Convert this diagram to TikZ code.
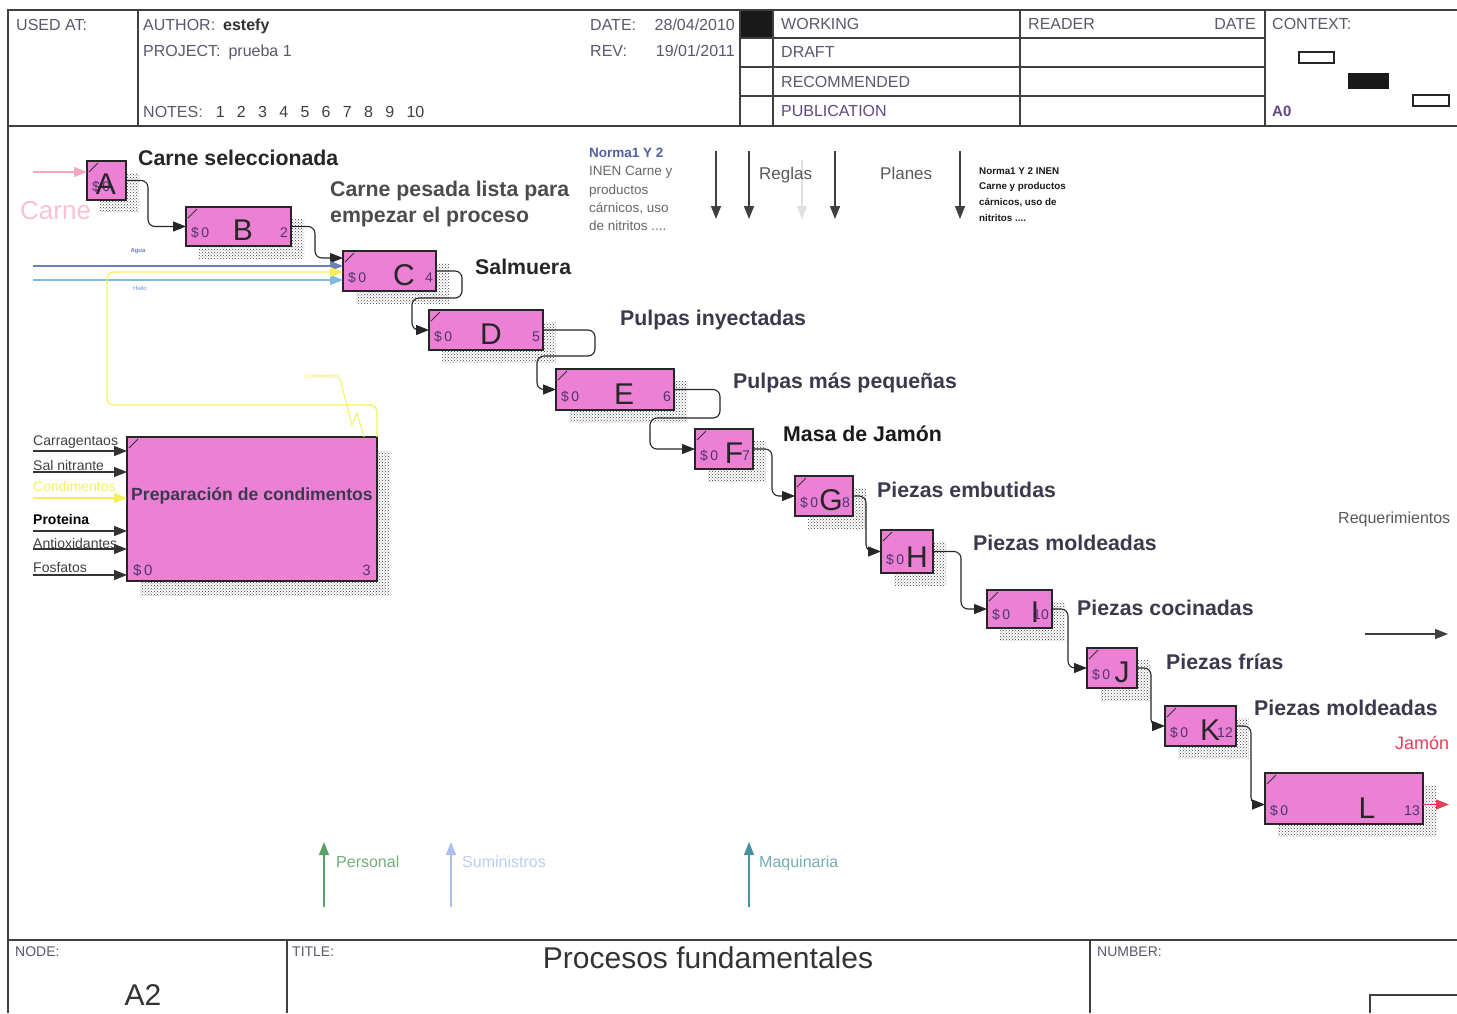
\documentclass[tikz,border=0pt]{standalone}
\usepackage{fontspec}
\setmainfont{Liberation Sans}
\usetikzlibrary{arrows.meta,patterns,calc}

\definecolor{procfill}{RGB}{236,128,212}
\definecolor{ink}{RGB}{58,58,76}
\definecolor{hdr}{RGB}{88,88,110}
\definecolor{costc}{RGB}{80,50,115}
\definecolor{normblue}{RGB}{80,96,160}
\definecolor{ylw}{RGB}{245,240,90}
\definecolor{aguab}{RGB}{108,128,184}
\definecolor{hielob}{RGB}{128,184,224}
\definecolor{carnepink}{RGB}{246,168,192}
\definecolor{jamonred}{RGB}{232,60,88}
\definecolor{persg}{RGB}{90,160,100}
\definecolor{sumb}{RGB}{170,192,240}
\definecolor{maqt}{RGB}{70,146,156}

\newcommand\fsz[1]{\fontsize{#1}{#1}\selectfont}

% one IDEF0 activity box with its hatched shadow:
% name, x1, y1, x2, y2, x of the letter, letter, box number
\newcommand\procbox[8]{%
  \fill[shade] ({#2+13},{#3+12}) rectangle ({#4+13},{#5+12});
  \node[proc, minimum width={#4-#2}, minimum height={#5-#3}] (#1) at ({(#2+#4)/2},{(#3+#5)/2}) {};
  \draw[black!80, line width=0.8pt] ({#2+2},{#3+11}) -- ({#2+11},{#3+2});
  \node[cost] (#1-cost) at ({#2+5},{#5-9}) {\$\,0};
  \node[letter] (#1-id) at ({#6},{#5-6}) {#7};
  \node[num] (#1-num) at ({#4-3},{#5-9}) {#8};
}

\begin{document}
\begin{tikzpicture}[x=1pt,y=-1pt,
  frame/.style={draw=black!75, line width=1.4pt},
  proc/.style={draw=black!85, fill=procfill, line width=1.2pt, inner sep=0pt, outer sep=0pt},
  shade/.style={pattern=crosshatch dots, pattern color=black!75},
  tip/.style={-{Triangle[length=13pt,width=10pt]}},
  flow/.style={draw=black!85, line width=1.1pt, rounded corners=7pt, tip},
  lab/.style={font=\fsz{21.3}\bfseries, text=ink, inner sep=0pt, anchor=base west},
  hd/.style={font=\fsz{16}, text=hdr, inner sep=0pt, anchor=base west},
  small/.style={font=\fsz{14}, text=black!75, inner sep=0pt, anchor=base west},
  tiny/.style={font=\fsz{6}, inner sep=0pt},
  cost/.style={font=\fsz{14}, text=costc, inner sep=0pt, anchor=base west},
  letter/.style={font=\fsz{30}, text=black!85, inner sep=0pt, anchor=base},
  num/.style={font=\fsz{14}, text=costc, inner sep=0pt, anchor=base east},
  ctrl/.style={draw=black!75, line width=1.4pt, tip},
  inarrow/.style={draw=black!80, line width=1.2pt, tip},
]
\useasboundingbox (0,0) rectangle (1457,1013);
\fill[white] (0,0) rectangle (1457,1013);

% ---------- form frame ----------
\draw[frame] (8,1013) -- (8,10) -- (1457,10);
\draw[frame] (8,126) -- (1457,126);
\draw[frame] (8,940) -- (1457,940);
\foreach \xx in {138,740,773,1020,1265} \draw[frame] (\xx,10) -- (\xx,126);
\foreach \yy in {38,67,96} \draw[frame, line width=1.1pt] (740,\yy) -- (1265,\yy);
\fill[black!90] (741,11) rectangle (772,37);
\draw[frame] (287,940) -- (287,1013);
\draw[frame] (1090,940) -- (1090,1013);
\draw[frame, line width=1.1pt] (1457,995) -- (1370,995) -- (1370,1013);

% ---------- header texts ----------
\node[hd] (usedat) at (16,30) {USED AT:};
\node[hd] (author) at (143,30) {AUTHOR:\hspace{8pt}\textcolor{black!80}{\bfseries estefy}};
\node[hd] (project) at (143,56) {PROJECT:\hspace{8pt}prueba 1};
\node[hd] (notes) at (143,117) {NOTES:\hspace{13pt}\textcolor{black!75}{1\hspace{12.3pt}2\hspace{12.3pt}3\hspace{12.3pt}4\hspace{12.3pt}5\hspace{12.3pt}6\hspace{12.3pt}7\hspace{12.3pt}8\hspace{12.3pt}9\hspace{12.3pt}10}};
\node[hd] (datek) at (590,30) {DATE:};
\node[hd, anchor=base east] (datev) at (735,30) {28/04/2010};
\node[hd] (revk) at (590,56) {REV:};
\node[hd, anchor=base east] (revv) at (735,56) {19/01/2011};
\node[hd] (working) at (781,29) {WORKING};
\node[hd] (draft) at (781,57) {DRAFT};
\node[hd] (recom) at (781,87) {RECOMMENDED};
\node[hd, text=costc!90] (publ) at (781,116) {PUBLICATION};
\node[hd] (reader) at (1028,29) {READER};
\node[hd, anchor=base east] (rdate) at (1256,29) {DATE};
\node[hd] (context) at (1272,29) {CONTEXT:};
\node[hd, text=costc!90, font=\fsz{15}\bfseries] (azero) at (1272,116) {A0};
\draw[black!85, line width=1.3pt] (1299,52) rectangle (1334,63);
\fill[black!90] (1348,73) rectangle (1389,89);
\draw[black!85, line width=1.3pt] (1413,95) rectangle (1449,106);

% ---------- footer texts ----------
\node[small, text=hdr] (nodek) at (15,956) {NODE:};
\node[font=\fsz{30}, text=black!80, inner sep=0pt, anchor=base] (nodev) at (143,1005) {A2};
\node[small, text=hdr] (titlek) at (292,956) {TITLE:};
\node[font=\fsz{30}, text=black!80, inner sep=0pt, anchor=base] (titlev) at (708,968) {Procesos fundamentales};
\node[small, text=hdr] (numberk) at (1097,956) {NUMBER:};

% ---------- activity boxes ----------
\procbox{A}{87}{161}{126}{200}{106}{A}{}
\procbox{B}{186}{207}{291}{246}{243}{B}{2}
\procbox{C}{343}{251}{436}{291}{404}{C}{4}
\procbox{D}{429}{310}{543}{350}{491}{D}{5}
\procbox{E}{556}{369}{674}{410}{624}{E}{6}
\procbox{F}{695}{429}{753}{469}{734}{F}{7}
\procbox{G}{795}{476}{853}{516}{831}{G}{8}
\procbox{H}{881}{530}{933}{573}{917}{H}{}
\procbox{I}{987}{590}{1052}{628}{1035}{I}{10}
\procbox{J}{1087}{648}{1137}{688}{1122}{J}{}
\procbox{K}{1165}{706}{1236}{746}{1210}{K}{12}
\procbox{L}{1265}{773}{1423}{824}{1367}{L}{13}

% seasoning preparation box
\fill[shade] (140,451) rectangle (390,595);
\node[proc, minimum width=250, minimum height=144] (P) at (252,509) {};
\draw[black!80, line width=0.8pt] (129,448) -- (138,439);
\node[font=\fsz{17.6}\bfseries, text=ink!90!costc, inner sep=0pt] (P-text) at (252,496) {Preparación de condimentos};
\node[cost, font=\fsz{15}] (P-cost) at (133,575) {\$\,0};
\node[num, font=\fsz{15}] (P-num) at (371,575) {3};

% ---------- arrow labels ----------
\node[lab, text=black!85] (l1) at (138,165) {Carne seleccionada};
\node[lab, font=\fsz{21.3}\bfseries, text=black!70] (l2a) at (330,196) {Carne pesada lista para};
\node[lab, font=\fsz{21.3}\bfseries, text=black!70] (l2b) at (330,222) {empezar el proceso};
\node[lab, text=black!85] (l3) at (475,274) {Salmuera};
\node[lab] (l4) at (620,325) {Pulpas inyectadas};
\node[lab] (l5) at (733,388) {Pulpas más pequeñas};
\node[lab, text=black!90] (l6) at (783,441) {Masa de Jamón};
\node[lab] (l7) at (877,497) {Piezas embutidas};
\node[lab] (l8) at (973,550) {Piezas moldeadas};
\node[lab] (l9) at (1077,615) {Piezas cocinadas};
\node[lab] (l10) at (1166,669) {Piezas frías};
\node[lab] (l11) at (1254,715) {Piezas moldeadas};
\node[font=\fsz{18}, text=jamonred, inner sep=0pt, anchor=base west] (jamon) at (1395,749) {Jamón};
\node[font=\fsz{26}, text=carnepink!70, inner sep=0pt, anchor=base west] (carne) at (20,219) {Carne};

% ---------- flow between activities ----------
\coordinate (carnein) at (33,172);
\draw[carnepink, line width=1.3pt, tip] (carnein) -- ([yshift=8.5pt]A.west);
\draw[flow] (A.east) -- ++(22,0) |- (B.west);
\draw[flow] (B.east) -- ++(24,0) |- ([yshift=13pt]C.west);
\draw[flow] (C.east) -- ++(26,0) |- (412,298) |- (D.west);
\draw[flow] (D.east) -- ++(52,0) |- (537,356) |- (E.west);
\draw[flow] (E.east) -- ++(46,0) |- (650,418) |- (F.west);
\draw[flow] (F.east) -- ++(19,0) |- (G.west);
\draw[flow] (G.east) -- ++(13,0) |- (H.west);
\draw[flow] (H.east) -- ++(28,0) |- (I.west);
\draw[flow] (I.east) -- ++(16,0) |- (J.west);
\draw[flow] (J.east) -- ++(14,0) |- (K.west);
\draw[flow] (K.east) -- ++(15,0) |- ([yshift=-6pt]L.west);
\coordinate (jamonend) at (1449,804.5);
\draw[jamonred, line width=1.2pt, tip] ([yshift=-6pt]L.east) -- (jamonend);

% ---------- inputs of the brine step ----------
\coordinate (aguain) at (33,266);
\coordinate (hieloin) at (33,280);
\draw[aguab, line width=1.3pt, tip] (aguain) -- ([yshift=5pt]C.west);
\draw[hielob, line width=1.3pt, tip] (hieloin) -- ([yshift=-9pt]C.west);
\draw[ylw, line width=1.3pt, rounded corners=7pt, tip] (P.north east) |- (107,405) |- ([yshift=-1pt]C.west);
\node[tiny, text=aguab, font=\fsz{6}\bfseries] (agualab) at (138,251) {Agua};
\node[tiny, text=hielob!80!blue] (hielolab) at (140,288) {Hielo};
\node[tiny, text=ylw!90!orange] (condlab) at (322,376) {Condimentos};
\draw[ylw, line width=1pt] (condlab.south east) -- (352,425) -- (357,413) -- (364,437);

% ---------- inputs of the seasoning preparation ----------
\foreach \yy/\sh/\nm in {451/58/c1, 472/37/c2, 531/-22/c4, 549/-40/c5, 575/-66/c6}{
  \coordinate (\nm) at (33,\yy);
  \draw[inarrow] (\nm) -- ([yshift=\sh pt]P.west);
}
\coordinate (c3) at (33,498);
\draw[ylw, line width=1.3pt, tip] (c3) -- ([yshift=11pt]P.west);
\node[small] (carrag) at (33,445) {Carragentaos};
\node[small] (salnit) at (33,470) {Sal nitrante};
\node[small, text=ylw] (condim) at (33,491) {Condimentos};
\node[small, text=black, font=\fsz{14}\bfseries] (protein) at (33,524) {Proteina};
\node[small] (antiox) at (33,548) {Antioxidantes};
\node[small] (fosfat) at (33,572) {Fosfatos};

% ---------- controls ----------
\node[inner sep=0pt, anchor=north west, align=left, font=\fontsize{13.5}{18.3}\selectfont, text=black!60] (norma) at (589,148)
  {\textcolor{normblue}{\bfseries Norma1 Y 2}\\INEN Carne y\\productos\\cárnicos, uso\\de nitritos ....};
\foreach \xx/\nm in {716/k1, 749/k2, 835/k4, 960/k5}{
  \coordinate (\nm-top) at (\xx,151);
  \coordinate (\nm-end) at (\xx,219);
  \draw[ctrl] (\nm-top) -- (\nm-end);
}
\coordinate (k3-top) at (802,160);
\coordinate (k3-end) at (802,219);
\draw[ctrl, draw=black!12] (k3-top) -- (k3-end);
\node[font=\fsz{17}, text=black!65, inner sep=0pt, anchor=base west] (reglas) at (759,179) {Reglas};
\node[font=\fsz{17}, text=black!65, inner sep=0pt, anchor=base west] (planes) at (880,179) {Planes};
\node[inner sep=0pt, anchor=north west, align=left, font=\fontsize{9.8}{15.7}\selectfont\bfseries, text=black!90] (norma2) at (979,167)
  {Norma1 Y 2 INEN\\Carne y productos\\cárnicos, uso de\\nitritos ....};

% ---------- mechanisms ----------
\coordinate (pers-bot) at (324,907);
\coordinate (sum-bot) at (451,907);
\coordinate (maq-bot) at (749,907);
\draw[persg, line width=1.3pt, tip] (pers-bot) -- ++(0,-65);
\draw[sumb, line width=1.3pt, tip] (sum-bot) -- ++(0,-65);
\draw[maqt, line width=1.3pt, tip] (maq-bot) -- ++(0,-65);
\node[font=\fsz{16}, text=persg!85!white, inner sep=0pt, anchor=base west] (pers) at (336,867) {Personal};
\node[font=\fsz{16}, text=sumb!80!white, inner sep=0pt, anchor=base west] (sum) at (462,867) {Suministros};
\node[font=\fsz{16}, text=maqt!75!white, inner sep=0pt, anchor=base west] (maq) at (759,867) {Maquinaria};

% ---------- requirements ----------
\node[font=\fsz{16}, text=black!65, inner sep=0pt, anchor=base west] (req) at (1338,523) {Requerimientos};
\coordinate (req-a) at (1365,634);
\coordinate (req-b) at (1448,634);
\draw[ctrl] (req-a) -- (req-b);
\end{tikzpicture}
\end{document}
